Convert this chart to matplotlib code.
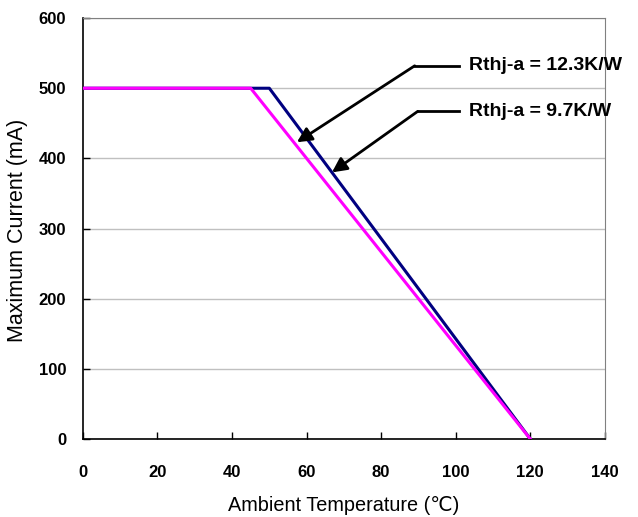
import matplotlib
matplotlib.use("Agg")
import matplotlib.pyplot as plt

plt.rcParams['font.family'] = ['Liberation Sans', 'DejaVu Sans']

# derating curves (ambient temp in C, current in mA)
temp_a = [0, 45, 120]
cur_a = [500, 500, 0]
temp_b = [0, 50, 120]
cur_b = [500, 500, 0]

labels = ['Rthj-a = 12.3K/W', 'Rthj-a = 9.7K/W']
tips = [(57.4, 423), (66.8, 380)]
elbows = [(89.0, 532), (89.8, 467)]
ends = [(100.8, 532), (100.8, 467)]

fig = plt.figure(figsize=(6.38, 5.17), dpi=100)
ax = fig.add_axes([0.130, 0.151, 0.818, 0.814])

ax.plot(temp_b, cur_b, color='#000080', lw=2.2, zorder=3)
ax.plot(temp_a, cur_a, color='#ff00ff', lw=2.2, zorder=4)

ax.set_xlim(0, 140)
ax.set_ylim(0, 600)
ax.set_xticks(range(0, 141, 20))
ax.set_yticks(range(0, 601, 100))
ax.yaxis.grid(True, color='#c0c0c0', lw=1)
ax.set_axisbelow(True)

ax.tick_params(direction='in', length=5, width=1, labelsize=12)
ax.tick_params(axis='x', pad=19)
ax.tick_params(axis='y', pad=12)
for t in ax.get_xticklabels() + ax.get_yticklabels():
    t.set_fontweight('bold')

ax.spines['left'].set_color('black')
ax.spines['bottom'].set_color('black')
ax.spines['left'].set_linewidth(1.2)
ax.spines['bottom'].set_linewidth(1.2)
ax.spines['top'].set_color('#808080')
ax.spines['right'].set_color('#808080')

ax.set_xlabel('Ambient Temperature (℃)', fontsize=14.3)
ax.set_ylabel('Maximum Current (mA)', fontsize=15.5)
ax.xaxis.set_label_coords(0.5, -0.135)
ax.yaxis.set_label_coords(-0.105, 0.495)

for lab, tip, elb, end in zip(labels, tips, elbows, ends):
    ax.plot([end[0], elb[0]], [end[1], elb[1]], color='black', lw=2, clip_on=False)
    ax.annotate('', xy=tip, xytext=elb,
                arrowprops=dict(arrowstyle='-|>', color='black', lw=2,
                                mutation_scale=22, shrinkA=0, shrinkB=0))
    ax.text(end[0] + 2.8, end[1], lab, fontsize=14, fontweight='bold',
            va='center', ha='left', clip_on=False)

fig.savefig('out.png', dpi=100)
